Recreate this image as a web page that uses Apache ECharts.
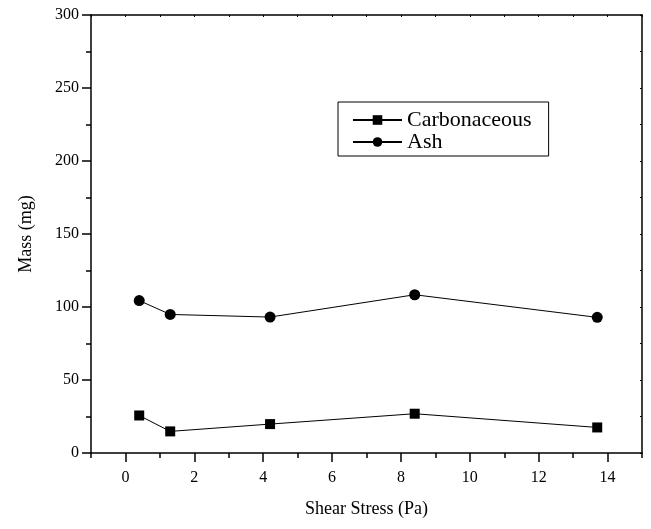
<!DOCTYPE html>
<html>
<head>
<meta charset="utf-8">
<script src="https://cdn.jsdelivr.net/npm/echarts@6/dist/echarts.min.js"></script>
<style>html,body{margin:0;padding:0;background:#fff}#c{width:651px;height:529px}</style>
</head>
<body>
<div id="c"></div>
<script>
const shearStress = [0.4, 1.3, 4.2, 8.4, 13.7];
const carbonaceous = [25.7, 14.8, 19.8, 26.9, 17.5];
const ash = [104.4, 94.9, 93.1, 108.4, 92.9];
const xMajorTicks = [0, 2, 4, 6, 8, 10, 12, 14];
const xMinorTicks = [-1, 1, 3, 5, 7, 9, 11, 13, 15];

const FONT = 'Liberation Serif';
const chart = echarts.init(document.getElementById('c'), null, {renderer: 'canvas'});
const lineStyle = {color: '#000', width: 1};
const baseX = {type: 'value', min: -1, max: 15, splitLine: {show: false}};
chart.setOption({
  animation: false,
  backgroundColor: '#fff',
  grid: {left: 91, right: 9, top: 15, bottom: 76, containLabel: false},
  legend: {
    orient: 'vertical', left: 338, top: 102,
    borderColor: '#000', borderWidth: 1, padding: [7, 17, 3, 14],
    itemWidth: 49, itemHeight: 12, itemGap: 0,
    textStyle: {fontFamily: FONT, fontSize: 22, color: '#000', lineHeight: 22},
    data: ['Carbonaceous', 'Ash']
  },
  xAxis: [
    Object.assign({}, baseX, {
      position: 'bottom',
      name: 'Shear Stress (Pa)', nameLocation: 'middle', nameGap: 47,
      nameTextStyle: {fontFamily: FONT, fontSize: 18, color: '#000'},
      axisLine: {show: true, onZero: false, lineStyle: {color: '#000', width: 1.5}},
      axisTick: {show: true, length: 9, customValues: xMajorTicks, lineStyle: {color: '#000', width: 1.5}},
      axisLabel: {customValues: xMajorTicks, margin: 17, fontFamily: FONT, fontSize: 16, color: '#000'}
    }),
    Object.assign({}, baseX, {
      position: 'bottom',
      axisLine: {show: false},
      axisTick: {show: true, length: 5, customValues: xMinorTicks, lineStyle: {color: '#000', width: 1.5}},
      axisLabel: {show: false}
    }),
    Object.assign({}, baseX, {
      position: 'top', interval: 1,
      axisLine: {show: true, onZero: false, lineStyle: {color: '#000', width: 1.5}},
      axisTick: {show: true, length: 2, inside: true, lineStyle: {color: '#000', width: 1}},
      axisLabel: {show: false}
    })
  ],
  yAxis: [
    {
      type: 'value', min: 0, max: 300, interval: 50, position: 'left',
      name: 'Mass (mg)', nameLocation: 'middle', nameGap: 56,
      nameTextStyle: {fontFamily: FONT, fontSize: 18, color: '#000'},
      splitLine: {show: false},
      axisLine: {show: true, onZero: false, lineStyle: {color: '#000', width: 1.5}},
      axisTick: {show: true, length: 9, lineStyle: {color: '#000', width: 1.5}},
      minorTick: {show: true, splitNumber: 2, length: 5, lineStyle: {color: '#000', width: 1.5}},
      axisLabel: {margin: 12, fontFamily: FONT, fontSize: 16, color: '#000'}
    },
    {
      type: 'value', min: 0, max: 300, interval: 25, position: 'right',
      splitLine: {show: false},
      axisLine: {show: true, onZero: false, lineStyle: {color: '#000', width: 1.5}},
      axisTick: {show: true, length: 2, inside: true, lineStyle: {color: '#000', width: 1}},
      axisLabel: {show: false}
    }
  ],
  series: [
    {
      name: 'Carbonaceous', type: 'line', xAxisIndex: 0, yAxisIndex: 0,
      data: shearStress.map((x, i) => [x, carbonaceous[i]]),
      symbol: 'rect', symbolSize: 10,
      lineStyle: lineStyle, itemStyle: {color: '#000'}
    },
    {
      name: 'Ash', type: 'line', xAxisIndex: 0, yAxisIndex: 0,
      data: shearStress.map((x, i) => [x, ash[i]]),
      symbol: 'circle', symbolSize: 11,
      lineStyle: lineStyle, itemStyle: {color: '#000'}
    }
  ]
});
</script>
</body>
</html>
